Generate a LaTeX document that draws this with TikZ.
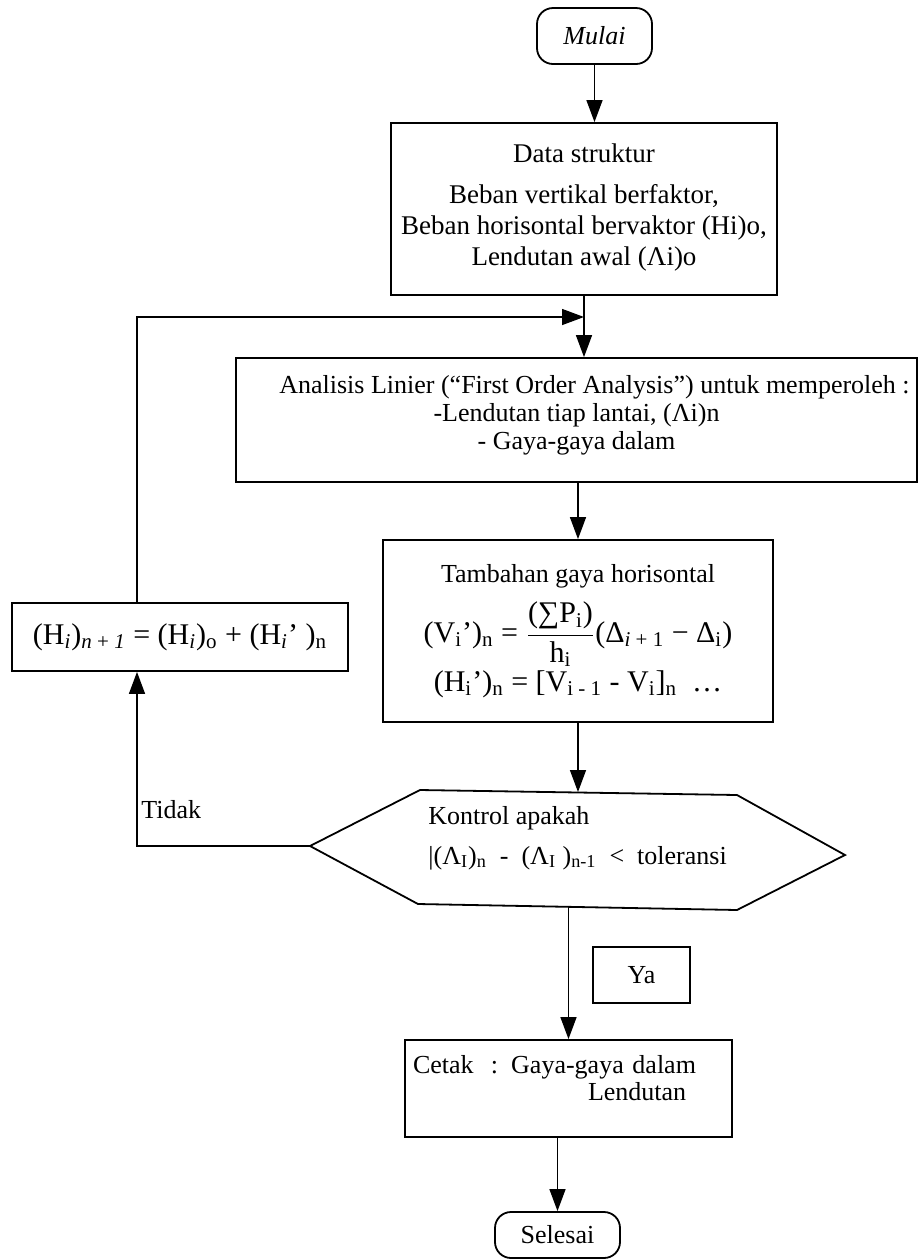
\documentclass[tikz,border=0pt]{standalone}
\usepackage{fontspec}
\setmainfont{Liberation Serif}
\usepackage{amsmath}
\usetikzlibrary{arrows.meta}
\newcommand\sbs[1]{\textsubscript{#1}}
\begin{document}
\begin{tikzpicture}[x=0.5pt,y=-0.5pt,
  font=\fontsize{13}{15}\selectfont,
  box/.style={draw, line width=0.9pt, align=center, inner sep=2pt},
  arr/.style={line width=0.7pt, -{Triangle[length=11pt,width=8pt]}},
  ln/.style={line width=0.9pt},
  fml/.style={font=\fontsize{15}{17}\selectfont}]
\useasboundingbox (0,0) rectangle (919,1260);

\node[box, rounded corners=8pt, minimum width=57.5pt, minimum height=28pt] (mulai) at (594.5,36) {\textit{Mulai}};

\node[box, minimum width=193pt, minimum height=86pt, font=\fontsize{13.5}{15.5}\selectfont] (data) at (584,209)
  {Data struktur\\[5pt]Beban vertikal berfaktor,\\Beban horisontal bervaktor (Hi)o,\\Lendutan awal (Λi)o\rule[-4pt]{0pt}{4pt}};

\node[box, minimum width=340.5pt, minimum height=62pt, font=\fontsize{13}{14}\selectfont] (anal) at (576.5,420)
  {\hspace*{18pt}Analisis Linier (“First Order Analysis”) untuk memperoleh :\\-Lendutan tiap lantai, (Λi)n\\- Gaya-gaya dalam\rule[-8pt]{0pt}{8pt}};

\node[box, minimum width=195pt, minimum height=91pt] (tamb) at (578,631)
  {Tambahan gaya horisontal\\[6pt]
   {\fontsize{15}{17}\selectfont (V\sbs{i}')\sbs{n} = $\dfrac{\text{(∑P\sbs{i})}}{\text{h\sbs{i}}}$(Δ\sbs{\textit{i} + 1} − Δ\sbs{i})}\\[1pt]
   {\fontsize{15}{17}\selectfont (H\sbs{i}')\sbs{n} = [V\sbs{i - 1} - V\sbs{i}]\sbs{n}\ \ …}};

\node[box, minimum width=168pt, minimum height=34pt, fml] (left) at (180,637)
  {(H\sbs{\textit{i}})\sbs{\textit{n} + \textit{1}} = (H\sbs{\textit{i}})\sbs{o} + (H\sbs{\textit{i}}' )\sbs{n}};

% hexagon
\coordinate (hTL) at (420,790);
\coordinate (hTR) at (737,795);
\coordinate (hR) at (845,855);
\coordinate (hBR) at (737,910);
\coordinate (hBL) at (418,904);
\coordinate (hL) at (310,846);
\draw[ln] (hTL) -- (hTR) -- (hR) -- (hBR) -- (hBL) -- (hL) -- cycle;
\node[anchor=west, align=left, inner sep=0pt] (hex) at (428,838)
  {Kontrol apakah\\[5pt]|(Λ\sbs{I})\sbs{n}\ \ -\ \ (Λ\sbs{I} )\sbs{n-1}\ \ <\ \ toleransi};
\coordinate (hT) at (578,792);
\coordinate (hB) at (572,907);

\node[anchor=west, inner sep=1pt] (tidak) at (139,810) {Tidak};

\node[box, minimum width=48.5pt, minimum height=28pt] (ya) at (641.5,975) {Ya};

\node[box, minimum width=163.5pt, minimum height=48.5pt, align=left, text width=155.5pt, inner sep=4pt, font=\fontsize{13}{13.5}\selectfont] (cetak) at (568.5,1088.5)
  {Cetak\ \ : Gaya-gaya dalam\\\hspace*{87.5pt}Lendutan\rule[-11pt]{0pt}{11pt}};

\node[box, rounded corners=8pt, minimum width=62.5pt, minimum height=23pt] (selesai) at (557.5,1235) {Selesai};

% connectors
\draw[arr] (mulai.south) -- (mulai.south |- data.north);
\draw[arr] (data.south) -- (data.south |- anal.north);
\coordinate (join) at (data.south |- 0,317);
\draw[arr] ([xshift=-21.5pt]left.north) |- (join);
\draw[arr] (tamb.north |- anal.south) -- (tamb.north);
\draw[arr] (tamb.south) -- (tamb.south |- hT);
\draw[arr] (hL) -| ([xshift=-21.5pt]left.south);
\draw[arr] (cetak.north |- hB) -- (cetak.north);
\draw[arr] (selesai.north |- cetak.south) -- (selesai.north);
\end{tikzpicture}
\end{document}
